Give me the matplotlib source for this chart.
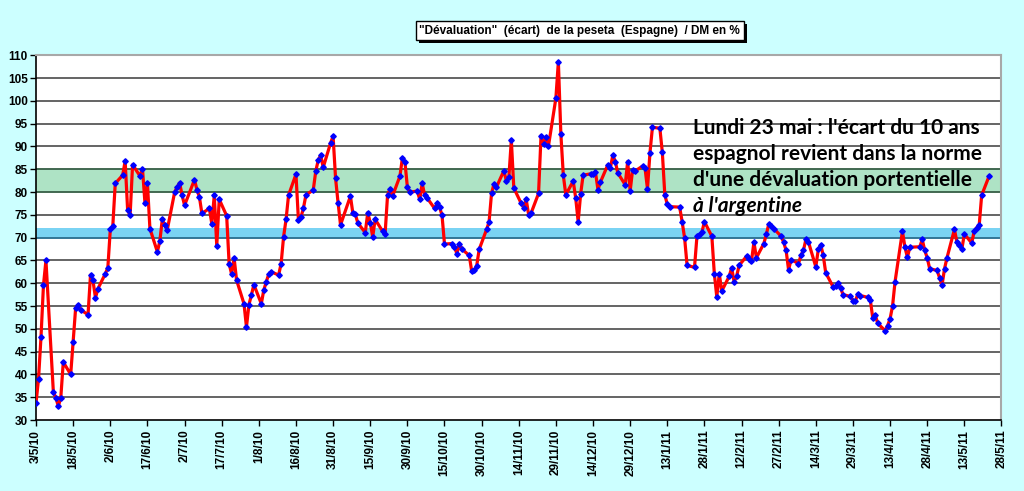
import matplotlib
matplotlib.use("Agg")
import matplotlib.pyplot as plt
from matplotlib.patches import Rectangle
import pandas as pd

# spread (%) of the peseta vs DM
dates = [
    "2010-05-03", "2010-05-04", "2010-05-05", "2010-05-06", "2010-05-07",
    "2010-05-10", "2010-05-11", "2010-05-12", "2010-05-13", "2010-05-14",
    "2010-05-17", "2010-05-18", "2010-05-19", "2010-05-20", "2010-05-21",
    "2010-05-24", "2010-05-25", "2010-05-26", "2010-05-27", "2010-05-28",
    "2010-05-31", "2010-06-01", "2010-06-02", "2010-06-03", "2010-06-04",
    "2010-06-07", "2010-06-08", "2010-06-09", "2010-06-10", "2010-06-11",
    "2010-06-14", "2010-06-15", "2010-06-16", "2010-06-17", "2010-06-18",
    "2010-06-21", "2010-06-22", "2010-06-23", "2010-06-24", "2010-06-25",
    "2010-06-28", "2010-06-29", "2010-06-30", "2010-07-01", "2010-07-02",
    "2010-07-06", "2010-07-07", "2010-07-08", "2010-07-09",
    "2010-07-12", "2010-07-13", "2010-07-14", "2010-07-15", "2010-07-16",
    "2010-07-19", "2010-07-20", "2010-07-21", "2010-07-22", "2010-07-23",
    "2010-07-26", "2010-07-27", "2010-07-28", "2010-07-29", "2010-07-30",
    "2010-08-02", "2010-08-03", "2010-08-04", "2010-08-05", "2010-08-06",
    "2010-08-09", "2010-08-10", "2010-08-11", "2010-08-12", "2010-08-13",
    "2010-08-16", "2010-08-17", "2010-08-18", "2010-08-19", "2010-08-20",
    "2010-08-23", "2010-08-24", "2010-08-25", "2010-08-26", "2010-08-27",
    "2010-08-30", "2010-08-31", "2010-09-01", "2010-09-02", "2010-09-03",
    "2010-09-07", "2010-09-08", "2010-09-09", "2010-09-10",
    "2010-09-13", "2010-09-14", "2010-09-15", "2010-09-16", "2010-09-17",
    "2010-09-20", "2010-09-21", "2010-09-22", "2010-09-23", "2010-09-24",
    "2010-09-27", "2010-09-28", "2010-09-29", "2010-09-30", "2010-10-01",
    "2010-10-04", "2010-10-05", "2010-10-06", "2010-10-07", "2010-10-08",
    "2010-10-11", "2010-10-12", "2010-10-13", "2010-10-14", "2010-10-15",
    "2010-10-18", "2010-10-19", "2010-10-20", "2010-10-21", "2010-10-22",
    "2010-10-25", "2010-10-26", "2010-10-27", "2010-10-28", "2010-10-29",
    "2010-11-01", "2010-11-02", "2010-11-03", "2010-11-04", "2010-11-05",
    "2010-11-08", "2010-11-09", "2010-11-10", "2010-11-11", "2010-11-12",
    "2010-11-15", "2010-11-16", "2010-11-17", "2010-11-18", "2010-11-19",
    "2010-11-22", "2010-11-23", "2010-11-24", "2010-11-25", "2010-11-26",
    "2010-11-29", "2010-11-30", "2010-12-01", "2010-12-02", "2010-12-03",
    "2010-12-06", "2010-12-07", "2010-12-08", "2010-12-09", "2010-12-10",
    "2010-12-13", "2010-12-14", "2010-12-15", "2010-12-16", "2010-12-17",
    "2010-12-20", "2010-12-21", "2010-12-22", "2010-12-23", "2010-12-24",
    "2010-12-27", "2010-12-28", "2010-12-29", "2010-12-30", "2010-12-31",
    "2011-01-03", "2011-01-04", "2011-01-05", "2011-01-06", "2011-01-07",
    "2011-01-10", "2011-01-11", "2011-01-12", "2011-01-13", "2011-01-14",
    "2011-01-18", "2011-01-19", "2011-01-20", "2011-01-21",
    "2011-01-24", "2011-01-25", "2011-01-26", "2011-01-27", "2011-01-28",
    "2011-01-31", "2011-02-01", "2011-02-02", "2011-02-03", "2011-02-04",
    "2011-02-07", "2011-02-08", "2011-02-09", "2011-02-10", "2011-02-11",
    "2011-02-14", "2011-02-15", "2011-02-16", "2011-02-17", "2011-02-18",
    "2011-02-21", "2011-02-22", "2011-02-23", "2011-02-24", "2011-02-25",
    "2011-02-28", "2011-03-01", "2011-03-02", "2011-03-03", "2011-03-04",
    "2011-03-07", "2011-03-08", "2011-03-09", "2011-03-10", "2011-03-11",
    "2011-03-14", "2011-03-15", "2011-03-16", "2011-03-17", "2011-03-18",
    "2011-03-21", "2011-03-22", "2011-03-23", "2011-03-24", "2011-03-25",
    "2011-03-28", "2011-03-29", "2011-03-30", "2011-03-31", "2011-04-01",
    "2011-04-04", "2011-04-05", "2011-04-06", "2011-04-07", "2011-04-08",
    "2011-04-11", "2011-04-12", "2011-04-13", "2011-04-14", "2011-04-15",
    "2011-04-18", "2011-04-19", "2011-04-20", "2011-04-21",
    "2011-04-25", "2011-04-26", "2011-04-27", "2011-04-28", "2011-04-29",
    "2011-05-02", "2011-05-03", "2011-05-04", "2011-05-05", "2011-05-06",
    "2011-05-09", "2011-05-10", "2011-05-11", "2011-05-12", "2011-05-13",
    "2011-05-16", "2011-05-17", "2011-05-18", "2011-05-19", "2011-05-20",
    "2011-05-23",
]
values = [
    33.8, 39.0, 48.2, 59.6, 65.0,
    36.1, 34.9, 33.0, 34.9, 42.7,
    40.0, 47.2, 54.6, 55.3, 54.2,
    53.1, 61.8, 60.6, 56.8, 58.8,
    62.1, 63.4, 71.8, 72.5, 81.9,
    83.7, 86.8, 76.0, 74.9, 86.0,
    83.5, 85.1, 77.6, 81.9, 72.0,
    66.9, 69.2, 74.0, 72.7, 71.7,
    80.0, 81.1, 82.0, 79.3, 77.1,
    82.7, 80.5, 78.9, 75.3,
    76.4, 73.1, 79.3, 68.2, 78.4,
    74.8, 64.3, 62.0, 65.6, 60.7,
    55.5, 50.4, 55.3, 57.4, 59.7,
    55.5, 58.5, 60.3, 62.0, 62.5,
    61.8, 64.3, 70.2, 74.0, 79.3,
    83.9, 73.8, 74.5, 76.4, 79.3,
    80.5, 84.6, 87.0, 88.1, 85.4,
    90.8, 92.2, 83.0, 77.7, 72.8,
    79.1, 75.3, 75.1, 73.2,
    71.1, 75.5, 73.3, 70.2, 74.0,
    71.4, 70.8, 79.3, 80.7, 79.1,
    83.5, 87.5, 86.7, 81.1, 80.0,
    80.2, 78.4, 81.9, 79.3, 78.7,
    76.4, 77.5, 76.7, 74.9, 68.6,
    68.7, 68.0, 66.5, 68.7, 67.5,
    66.1, 62.6, 62.8, 63.8, 67.4,
    71.8, 73.4, 79.7, 81.8, 81.1,
    84.7, 82.4, 83.2, 91.4, 80.9,
    77.5, 76.6, 78.4, 75.0, 75.4,
    79.7, 92.4, 90.6, 92.1, 90.1,
    100.6, 108.6, 92.8, 83.7, 79.4,
    82.4, 78.7, 73.5, 79.6, 83.7,
    84.0, 83.9, 84.3, 80.5, 82.2,
    86.0, 85.2, 88.1, 86.7, 84.2,
    81.6, 86.7, 80.2, 84.9, 84.6,
    85.7, 85.3, 80.7, 88.6, 94.2,
    94.0, 88.7, 79.4, 77.3, 76.8,
    76.7, 73.5, 69.9, 63.9,
    63.5, 70.4, 70.6, 71.2, 73.5,
    70.3, 62.1, 57.0, 62.1, 58.3,
    61.5, 63.4, 60.3, 61.5, 63.9,
    65.9, 65.4, 64.8, 69.0, 65.6,
    68.7, 70.7, 73.0, 72.5, 72.0,
    70.3, 69.0, 67.2, 62.9, 65.2,
    64.3, 66.1, 67.2, 69.6, 69.1,
    63.6, 67.4, 68.4, 66.1, 62.3,
    59.2, 59.3, 60.1, 59.0, 57.5,
    57.1, 56.2, 56.1, 57.7, 57.3,
    56.9, 56.4, 52.4, 53.1, 51.2,
    49.6, 50.7, 52.2, 55.0, 60.3,
    71.4, 67.9, 65.7, 67.9,
    68.0, 69.6, 67.2, 65.6, 63.2,
    62.8, 61.2, 59.6, 63.2, 65.6,
    71.8, 69.0, 68.4, 67.5, 70.8,
    68.8, 71.5, 72.2, 72.7, 79.3,
    83.5,
]

green_zone = (80, 85)
blue_zone = (70, 72.2)
title = '"Dévaluation"  (écart)  de la peseta  (Espagne)  / DM en %'
note_lines = ["Lundi 23 mai : l'écart du 10 ans",
              "espagnol revient dans la norme",
              "d'une dévaluation portentielle"]
note_last = "à l'argentine"

x = pd.to_datetime(dates)
start, end = pd.Timestamp("2010-05-03"), pd.Timestamp("2011-05-28")
ticks = pd.date_range(start, end, freq="15D")

bg = "#CCFFFF"
fig = plt.figure(figsize=(10.24, 4.91), dpi=100, facecolor=bg)
ax = fig.add_axes([0.0352, 0.1446, 0.9428, 0.7428])
ax.set_facecolor("white")

ax.axhspan(*green_zone, color="#AEE3C5", zorder=1, lw=0)
ax.axhspan(*blue_zone, color="#7AD3F3", zorder=1, lw=0)
for yv in range(35, 110, 5):
    ax.axhline(yv, color="#3a3a3a", lw=1.1, zorder=2)
ax.axhline(blue_zone[0], color="#2a7fa8", lw=1.1, zorder=2)
ax.axhline(green_zone[0], color="#3d6e50", lw=1.1, zorder=2)
ax.axhline(green_zone[1], color="#3d6e50", lw=1.1, zorder=2)

ax.plot(x, values, color="red", lw=2.3, zorder=3,
        marker="D", markersize=2.8, markerfacecolor="#0000FF",
        markeredgecolor="#0000FF")

ax.set_xlim(start, end)
ax.set_ylim(30, 110)
ax.set_yticks(range(30, 111, 5))
ax.set_xticks(ticks)
ax.set_xticklabels([f"{d.day}/{d.month}/{d.year % 100}" for d in ticks],
                   rotation=90)
for lab in ax.get_xticklabels() + ax.get_yticklabels():
    lab.set_fontweight("bold")
    lab.set_fontfamily("Liberation Sans")
    lab.set_fontsize(8.5)
ax.tick_params(axis="both", direction="out", length=4, width=1, color="black")
ax.tick_params(axis="x", pad=3)
ax.tick_params(axis="y", pad=2)
for s in ("left", "bottom"):
    ax.spines[s].set_color("black")
    ax.spines[s].set_linewidth(1.2)
for s in ("top", "right"):
    ax.spines[s].set_color("#A8A8A8")
    ax.spines[s].set_linewidth(1.5)

# title box, shadow drawn as a patch behind it
t = fig.text(0.566, 0.937, title, ha="center", va="center",
             fontsize=8.5, fontweight="bold", family="Liberation Sans",
             color="black", zorder=5,
             bbox=dict(boxstyle="square,pad=0.3", fc="white", ec="black", lw=1))
fig.canvas.draw()
bb = t.get_bbox_patch().get_window_extent(fig.canvas.get_renderer())
bb = bb.transformed(fig.transFigure.inverted())
fig.add_artist(Rectangle((bb.x0 + 0.003, bb.y0 - 0.006), bb.width, bb.height,
                         transform=fig.transFigure, fc="black", ec="none",
                         zorder=4))

# annotation
nx = 0.677
for i, line in enumerate(note_lines):
    fig.text(nx, 0.740 - i * 0.0535, line, ha="left", va="center",
             fontsize=15, fontweight="bold", family="Lato", color="black")
fig.text(nx, 0.740 - 3 * 0.0535, note_last, ha="left", va="center",
         fontsize=15, fontweight="bold", style="italic", family="Lato",
         color="black")

fig.savefig("out.png", dpi=100, facecolor=bg)
